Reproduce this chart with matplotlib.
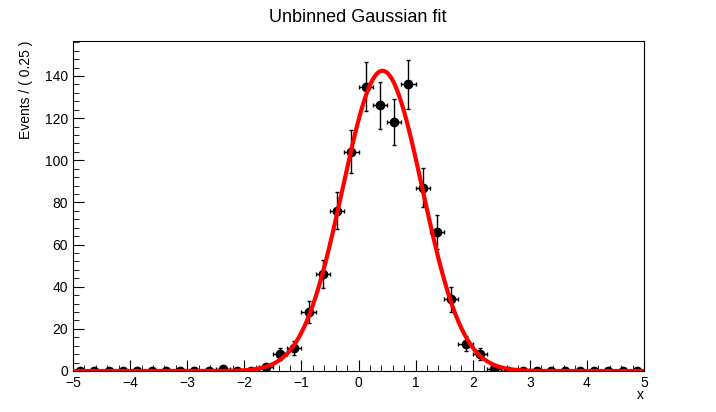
import numpy as np
import matplotlib
matplotlib.use("Agg")
import matplotlib.pyplot as plt
from matplotlib.ticker import MultipleLocator

plt.rcParams['font.family'] = ['Liberation Sans', 'DejaVu Sans']

centers = np.arange(-4.875, 5.0, 0.25)
counts = [0,0,0,0,0,0,0,0,0,0, 1,0,0,2,8,11,28,46,76,104,
          135,126,118,136,87,66,34,13,8,1, 0,0,0,0,0,0,0,0,0,0]
fit_mean = 0.42
fit_sigma = 0.70
fit_norm = 1000
bin_width = 0.25

counts = np.array(counts, float)
err = np.sqrt(counts)

fig = plt.figure(figsize=(7.16, 4.12), dpi=100)
ax = fig.add_axes([73/716, 1-371/412, (644-73)/716, (371-41)/412])
ax.errorbar(centers, counts, xerr=bin_width/2, yerr=err, fmt='o', color='black',
            ms=6, elinewidth=1, capsize=1.5, zorder=3)
xs = np.linspace(-5, 5, 1000)
ys = fit_norm*bin_width/(fit_sigma*np.sqrt(2*np.pi))*np.exp(-0.5*((xs-fit_mean)/fit_sigma)**2)
ax.plot(xs, ys, color='red', lw=3, zorder=4)
ax.set_xlim(-5, 5)
ax.set_ylim(0, 156.6)
ax.xaxis.set_major_locator(MultipleLocator(1))
ax.xaxis.set_minor_locator(MultipleLocator(0.2))
ax.yaxis.set_major_locator(MultipleLocator(20))
ax.yaxis.set_minor_locator(MultipleLocator(4))
ax.tick_params(which='both', direction='in', top=False, right=False, labelsize=10)
ax.tick_params(which='major', length=8)
ax.tick_params(which='minor', length=4)
fig.text(0.5, 1-18/412, "Unbinned Gaussian fit", ha='center', va='center', fontsize=13)
fig.text(644/716, 1-395/412, "x", ha='right', va='center', fontsize=10)
fig.text(26/716, 1-41/412, "Events / ( 0.25 )", rotation=90, ha='center', va='top', fontsize=10)
fig.savefig("out.png", dpi=100)
